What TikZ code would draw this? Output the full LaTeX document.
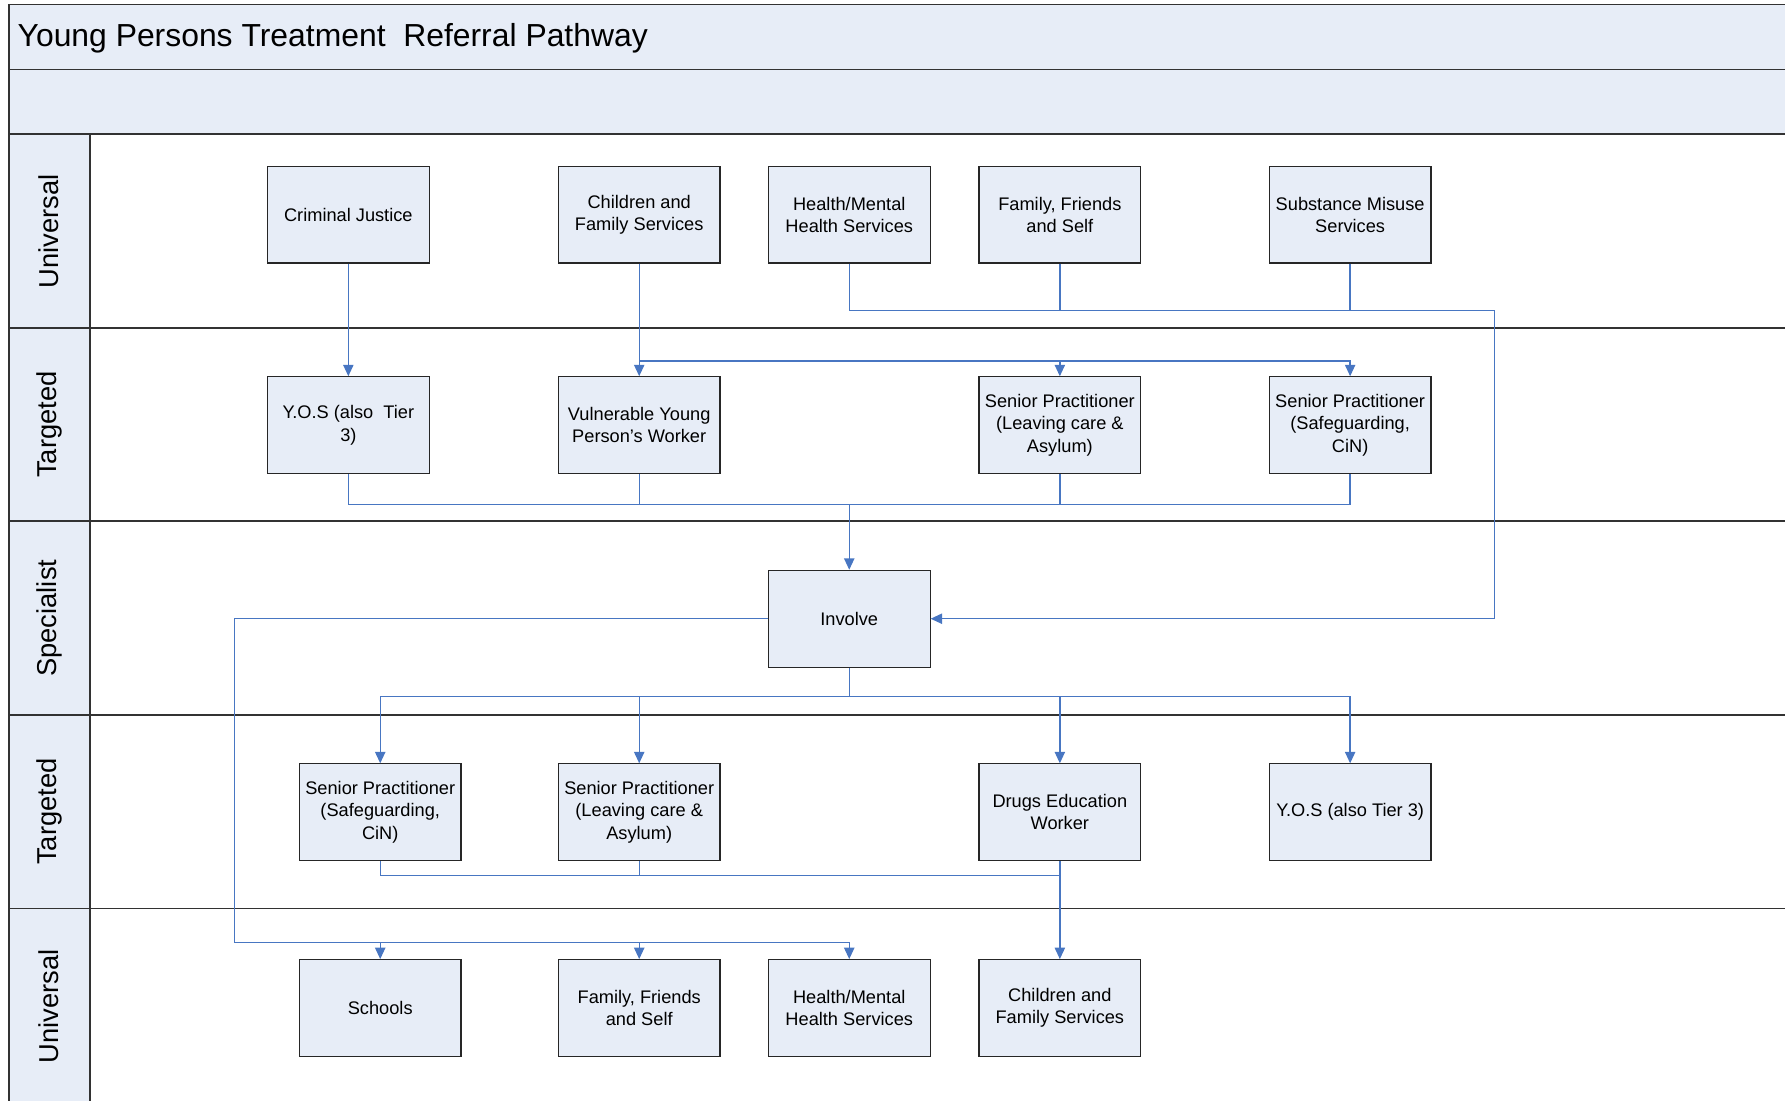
\documentclass[tikz,border=0pt]{standalone}
\usepackage{fontspec}
\setmainfont{Liberation Sans}
\usetikzlibrary{arrows.meta}
\definecolor{bandfill}{RGB}{231,237,247}
\definecolor{connblue}{RGB}{72,118,194}
\definecolor{lanegray}{RGB}{50,50,50}
\tikzset{
  procbox/.style={draw=black!85, line width=1pt, fill=bandfill, minimum width=142pt, minimum height=85pt,
    align=center, inner sep=2pt, font=\fontsize{16}{19.5}\selectfont},
  conn/.style={draw=connblue, line width=1.2pt},
  arr/.style={conn, -{Triangle[length=10pt,width=9pt]}},
  lanelabel/.style={rotate=90, font=\fontsize{24}{28}\selectfont},
  laneline/.style={draw=lanegray, line width=1.6pt}
}
\begin{document}
\begin{tikzpicture}[x=1pt,y=-1pt]
\useasboundingbox (0,0) rectangle (1568,967);
% bands and header column
\fill[bandfill] (8,4) rectangle (1575,118);
\fill[bandfill] (8,118) rectangle (79,975);
\draw[laneline] (8,975) -- (8,4) -- (1575,4);
\foreach \yy in {61,118,288,458,628,798} { \draw[laneline] (8,\yy) -- (1575,\yy); }
\draw[laneline] (79,118) -- (79,975);
\node[anchor=base west, font=\fontsize{28}{32}\selectfont] (title) at (12,41) {Young Persons Treatment\ \ Referral Pathway};
% lane labels
\node[lanelabel] (l1) at (43,203) {Universal};
\node[lanelabel] (l2) at (43,373) {Targeted};
\node[lanelabel] (l3) at (43,543) {Specialist};
\node[lanelabel] (l4) at (43,713) {Targeted};
\node[lanelabel] (l5) at (43,884) {Universal};
% row 1
\node[procbox] (cj)   at (306,188.5)   {Criminal Justice};
\node[procbox] (cfs1) at (561.5,188.5) {Children and\\Family Services};
\node[procbox] (hmh1) at (746,188.5)   {Health/Mental\\Health Services};
\node[procbox] (ffs1) at (931,188.5)   {Family, Friends\\and Self};
\node[procbox] (sms)  at (1186,188.5)  {Substance Misuse\\Services};
% row 2
\node[procbox] (yos1) at (306,373.5)   {Y.O.S (also\ \ Tier\\3)};
\node[procbox] (vyp)  at (561.5,373.5) {Vulnerable Young\\Person’s Worker};
\node[procbox] (spl1) at (931,373.5)   {Senior Practitioner\\(Leaving care \&\\Asylum)};
\node[procbox] (sps1) at (1186,373.5)  {Senior Practitioner\\(Safeguarding,\\CiN)};
% row 3
\node[procbox] (inv)  at (746,543.5)   {Involve};
% row 4
\node[procbox] (sps2) at (334,713.5)   {Senior Practitioner\\(Safeguarding,\\CiN)};
\node[procbox] (spl2) at (561.5,713.5) {Senior Practitioner\\(Leaving care \&\\Asylum)};
\node[procbox] (dew)  at (931,713.5)   {Drugs Education\\Worker};
\node[procbox] (yos2) at (1186,713.5)  {Y.O.S (also Tier 3)};
% row 5
\node[procbox] (sch)  at (334,885.5)   {Schools};
\node[procbox] (ffs2) at (561.5,885.5) {Family, Friends\\and Self};
\node[procbox] (hmh2) at (746,885.5)   {Health/Mental\\Health Services};
\node[procbox] (cfs2) at (931,885.5)   {Children and\\Family Services};
% junction coordinates
\coordinate (j1) at (561.5,317);
\coordinate (c1) at (1313,273);
\coordinate (c2) at (746,443);
\coordinate (c3) at (746,612);
\coordinate (c4) at (206,543.5);
\coordinate (c5) at (206,828);
\coordinate (c6) at (931,769);
% connectors
\draw[arr] (cj) -- (yos1);
\draw[arr] (cfs1) -- (vyp);
\draw[arr] (j1) -| (spl1);
\draw[arr] (spl1.north |- j1) -| (sps1);
\draw[conn] (hmh1.south) |- (c1);
\draw[conn] (ffs1.south) -- (ffs1.south |- c1);
\draw[conn] (sms.south) -- (sms.south |- c1);
\draw[arr] (c1) |- (inv.east);
\draw[conn] (yos1.south) |- (c2);
\draw[conn] (vyp.south) -- (vyp.south |- c2);
\draw[conn] (sps1.south) |- (c2);
\draw[conn] (spl1.south) -- (spl1.south |- c2);
\draw[arr] (c2) -- (inv);
\draw[conn] (inv) -- (c3);
\draw[arr] (c3) -| (spl2);
\draw[arr] (spl2.north |- c3) -| (sps2);
\draw[arr] (c3) -| (dew);
\draw[arr] (dew.north |- c3) -| (yos2);
\draw[conn] (inv.west) -- (c4) -- (c5);
\draw[arr] (c5) -| (sch);
\draw[arr] (sch.north |- c5) -| (ffs2);
\draw[arr] (ffs2.north |- c5) -| (hmh2);
\draw[conn] (sps2.south) |- (c6);
\draw[conn] (spl2.south) -- (spl2.south |- c6);
\draw[arr] (dew) -- (cfs2);
\end{tikzpicture}
\end{document}
